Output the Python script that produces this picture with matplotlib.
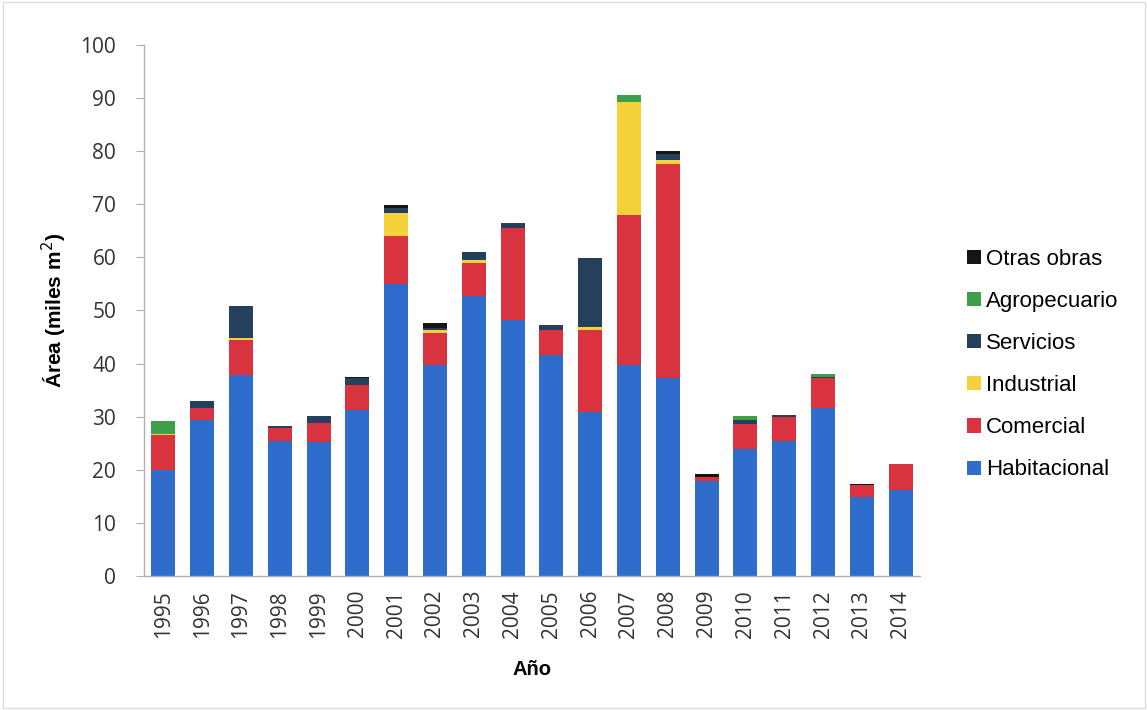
import matplotlib
matplotlib.use("Agg")
import matplotlib.pyplot as plt
import numpy as np

years = [str(y) for y in range(1995, 2015)]
habitacional = [20.0, 29.3, 37.9, 25.5, 25.2, 31.3, 55.0, 39.7, 52.7, 48.2, 41.6, 30.8, 39.7, 37.2, 17.8, 24.0, 25.5, 31.7, 14.8, 16.2]
comercial    = [6.5, 2.3, 6.5, 2.4, 3.6, 4.7, 9.0, 6.1, 6.2, 17.3, 4.7, 15.5, 28.3, 40.4, 0.9, 4.7, 4.5, 5.5, 2.3, 4.8]
industrial   = [0.3, 0.0, 0.4, 0.0, 0.0, 0.0, 4.3, 0.6, 0.6, 0.0, 0.0, 0.5, 21.3, 0.7, 0.0, 0.0, 0.0, 0.0, 0.0, 0.0]
servicios    = [0.0, 1.4, 6.0, 0.4, 1.4, 1.3, 1.0, 0.3, 1.6, 0.9, 1.0, 13.0, 0.0, 1.1, 0.0, 0.7, 0.4, 0.3, 0.0, 0.0]
agropecuario = [2.3, 0.0, 0.0, 0.0, 0.0, 0.0, 0.0, 0.0, 0.0, 0.0, 0.0, 0.0, 1.3, 0.0, 0.0, 0.7, 0.0, 0.5, 0.0, 0.0]
otras        = [0.0, 0.0, 0.0, 0.0, 0.0, 0.2, 0.5, 0.9, 0.0, 0.0, 0.0, 0.0, 0.0, 0.6, 0.5, 0.0, 0.0, 0.0, 0.2, 0.0]

series = [
    ("Habitacional", habitacional, "#2f6dcc"),
    ("Comercial", comercial, "#d8333f"),
    ("Industrial", industrial, "#f6d23a"),
    ("Servicios", servicios, "#24405c"),
    ("Agropecuario", agropecuario, "#3f9f48"),
    ("Otras obras", otras, "#151515"),
]

fig = plt.figure(figsize=(11.48, 7.10), dpi=100)
ax = fig.add_axes([0.1254, 0.1887, 0.676, 0.748])

x = np.arange(len(years))
bottom = np.zeros(len(years))
handles = []
for name, vals, col in series:
    v = np.array(vals)
    h = ax.bar(x, v, width=0.62, bottom=bottom, color=col, label=name, linewidth=0)
    handles.append(h)
    bottom += v

ax.set_xlim(-0.5, 19.5)
ax.set_ylim(0, 100)
ax.set_yticks(range(0, 101, 10))
ax.set_xticks(x)
ax.set_xticklabels(years, rotation=90, fontsize=15, family="Open Sans", color="#333333")
for lbl in ax.get_yticklabels():
    lbl.set_fontsize(15)
    lbl.set_family("Open Sans")
    lbl.set_color("#333333")

for s in ["top", "right"]:
    ax.spines[s].set_visible(False)
for s in ["left", "bottom"]:
    ax.spines[s].set_color("#b0b0b0")
    ax.spines[s].set_linewidth(1.0)
ax.tick_params(axis="y", length=6, color="#b0b0b0", pad=14)
ax.tick_params(axis="x", length=0, pad=10)

ax.set_ylabel("Área (miles m$^2$)", fontsize=15, fontweight="bold", family="Liberation Sans", labelpad=8)
ax.set_xlabel("Año", fontsize=14.5, fontweight="bold", family="Liberation Sans", labelpad=16)

leg = ax.legend(handles[::-1], [s[0] for s in series][::-1], loc="center left",
                bbox_to_anchor=(1.035, 0.398), frameon=False,
                prop={"family": "Liberation Sans", "size": 16},
                handlelength=0.6, handleheight=0.6, handletextpad=0.25,
                labelspacing=0.95)

fig.patches.append(plt.Rectangle((0.003, 0.003), 0.994, 0.994, transform=fig.transFigure,
                                 fill=False, edgecolor="#dddddd", linewidth=1.0))

fig.savefig("out.png", dpi=100)
